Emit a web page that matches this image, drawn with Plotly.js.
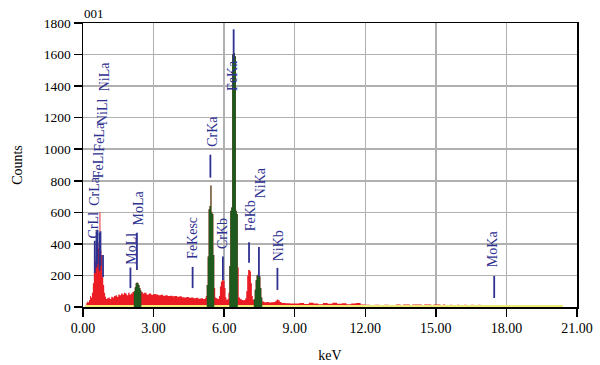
<!DOCTYPE html>
<html>
<head>
<meta charset="utf-8">
<script src="https://cdn.plot.ly/plotly-3.0.1.min.js"></script>
<style>
html,body{margin:0;padding:0;background:#fff;}
#chart{width:600px;height:365px;}
</style>
</head>
<body>
<div id="chart"></div>
<script>
// Spectrum channels (keV) and counts
const energy = [0.00,0.10,0.14,0.18,0.22,0.26,0.30,0.34,0.38,0.42,0.46,0.50,0.54,0.58,0.62,0.66,0.70,0.74,0.78,0.82,0.86,0.90,0.94,0.98,
1.02,1.08,1.14,1.20,1.26,1.32,1.38,1.44,1.50,1.56,1.62,1.68,1.74,1.80,1.86,1.92,1.98,2.04,2.10,
2.16,2.20,2.24,2.28,2.32,2.36,2.40,2.44,2.48,2.54,2.60,2.70,2.80,2.90,3.00,3.10,3.20,3.30,3.40,3.50,3.60,3.70,3.80,3.90,
4.00,4.10,4.20,4.30,4.40,4.50,4.60,4.70,4.80,4.90,5.00,5.10,5.18,5.22,
5.26,5.30,5.34,5.38,5.42,5.46,5.50,5.54,5.58,5.62,5.66,5.72,5.78,5.82,5.86,5.90,5.94,5.98,6.02,6.06,6.10,6.14,
6.18,6.22,6.26,6.30,6.34,6.38,6.42,6.46,6.50,6.54,6.58,6.62,6.68,6.74,6.80,6.86,6.90,6.94,6.98,7.02,7.06,7.10,7.14,7.18,7.22,7.26,
7.30,7.34,7.38,7.42,7.46,7.50,7.54,7.58,7.62,7.70,7.80,7.90,8.00,8.10,8.18,8.24,8.30,8.36,8.44,8.60,8.80,
9.00,9.20,9.40,9.60,9.80,10.00,10.20,10.40,10.60,10.80,11.00,11.20,11.40,11.60,11.80,12.00,12.20,12.40,12.60,12.80,13.00,13.20,
13.30,13.40,13.50,13.60,13.70,13.80,13.90,14.00,14.10,14.20,14.30,14.40,14.50,14.60,14.70,14.80,14.90,15.00,15.10,15.20,15.30,15.40,
15.60,15.70,15.90,16.00,16.20,16.30,16.50,16.60,16.80,16.90,20.50];
const counts = [0,5,25,35,30,45,70,60,90,150,220,290,330,340,370,410,600,360,330,190,140,90,65,50,
55,60,50,65,60,70,75,65,80,75,85,80,90,85,75,90,80,85,95,
100,125,150,155,150,140,120,105,95,85,90,80,85,78,82,80,75,78,72,75,70,72,68,70,
65,68,62,60,64,58,60,55,58,52,55,50,55,70,
140,320,620,640,770,600,590,330,120,60,55,50,70,130,160,170,175,165,120,60,45,50,
90,260,610,630,1600,1620,1610,1590,610,590,250,60,50,45,42,45,55,100,200,235,235,225,150,70,45,50,
110,170,200,205,200,195,120,60,35,30,32,28,30,32,40,48,42,32,26,24,22,
22,26,19,27,22,18,25,21,27,20,23,17,22,26,16,15,13,15,12,14,12,13,
16,16,0,16,16,16,0,16,16,16,16,0,16,16,16,0,16,16,16,0,16,0,
14,0,14,0,14,0,14,0,14,0,0];

// Identified peak windows (green)
const roiLo = [2.16, 5.26, 6.22, 7.26];
const roiHi = [2.48, 5.58, 6.58, 7.62];

// Background / baseline line (yellow)
const baseE = [0.10, 20.40];
const baseC = [3, 3];

// Line markers
const lineNames  = ['CrLl','CrLa','FeLl','FeLa','NiLl','NiLa','MoLl','MoLa','FeKesc','CrKa','CrKb','FeKa','FeKb','NiKa','NiKb','MoKa'];
const lineEnergy = [0.50,0.573,0.615,0.705,0.743,0.851,2.016,2.293,4.66,5.415,5.947,6.404,7.058,7.478,8.265,17.48];
const lineBottom = [215,250,270,230,260,190,120,235,120,820,171,1557,280,190,108,57];
const lineTop    = [420,480,490,470,480,330,250,470,254,965,320,1760,410,380,248,197];
const labelX     = [0.43,0.51,0.64,0.72,0.81,0.89,2.07,2.34,4.68,5.47,5.94,6.38,7.10,7.53,8.29,17.42];
const labelBase  = [426,635,807,978,1144,1360,260,508,299,1010,362,1360,470,680,280,248];

const xTicks = [0,3,6,9,12,15,18,21];
const xTickText = ['0.00','3.00','6.00','9.00','12.00','15.00','18.00','21.00'];

const SERIF = '"Liberation Serif", "Times New Roman", serif';
const RED = '#ec1c24', GREEN = '#1e5a1e', YEL = '#f0ec78', NAVY = '#2e3190';

const traces = [];
traces.push({x: energy, y: counts, type: 'scatter', mode: 'lines', line: {shape: 'hv', width: 0, color: RED},
  fill: 'tozeroy', fillcolor: RED, hoverinfo: 'skip'});
traces.push({x: baseE, y: baseC, type: 'scatter', mode: 'lines', line: {width: 3, color: YEL}, hoverinfo: 'skip'});
for (let r = 0; r < roiLo.length; r++) {
  const gx = [], gy = [];
  for (let i = 0; i < energy.length; i++) {
    if (energy[i] >= roiLo[r] - 1e-9 && energy[i] <= roiHi[r] + 1e-9) { gx.push(energy[i]); gy.push(counts[i]); }
  }
  traces.push({x: gx, y: gy, type: 'scatter', mode: 'lines', line: {shape: 'hv', width: 0, color: GREEN},
    fill: 'tozeroy', fillcolor: GREEN, hoverinfo: 'skip'});
}
const mx = [], my = [];
for (let i = 0; i < lineEnergy.length; i++) {
  mx.push(lineEnergy[i], lineEnergy[i], null);
  my.push(lineBottom[i], lineTop[i], null);
}
traces.push({x: mx, y: my, type: 'scatter', mode: 'lines', line: {width: 1.8, color: NAVY}, hoverinfo: 'skip'});

const annotations = lineNames.map((n, i) => ({
  x: labelX[i], y: labelBase[i], xref: 'x', yref: 'y', text: n, showarrow: false,
  textangle: -90, xanchor: 'center', yanchor: 'bottom', borderpad: 0,
  font: {family: SERIF, size: 14, color: NAVY}
}));
annotations.push({x: 0.47, y: 1, xref: 'x', yref: 'paper', text: '001', showarrow: false,
  xanchor: 'center', yanchor: 'bottom', font: {family: SERIF, size: 13, color: '#000'}});

const layout = {
  width: 600, height: 365,
  margin: {l: 83, r: 23, t: 23, b: 58},
  paper_bgcolor: '#fff', plot_bgcolor: '#fff',
  showlegend: false,
  font: {family: SERIF, size: 13, color: '#000'},
  xaxis: {
    range: [0, 21], tickvals: xTicks, ticktext: xTickText,
    showgrid: true, gridcolor: '#b0b0b0', gridwidth: 1.5,
    showline: true, linecolor: '#000', linewidth: 1.5, mirror: true,
    ticks: 'outside', ticklen: 8, tickcolor: '#000', tickwidth: 1.5,
    zeroline: false, layer: 'below traces',
    tickfont: {family: SERIF, size: 14},
    title: {text: 'keV', font: {family: SERIF, size: 14}, standoff: 15}
  },
  yaxis: {
    range: [0, 1800], dtick: 200,
    showgrid: true, gridcolor: '#b0b0b0', gridwidth: 1.5,
    showline: true, linecolor: '#000', linewidth: 1.5, mirror: true,
    ticks: 'outside', ticklen: 8, tickcolor: '#000', tickwidth: 1.5,
    zeroline: false, layer: 'below traces',
    tickfont: {family: SERIF, size: 13.5},
    title: {text: 'Counts', font: {family: SERIF, size: 14}, standoff: 18}
  },
  annotations: annotations
};

Plotly.newPlot('chart', traces, layout, {displayModeBar: false, staticPlot: true});
</script>
</body>
</html>
